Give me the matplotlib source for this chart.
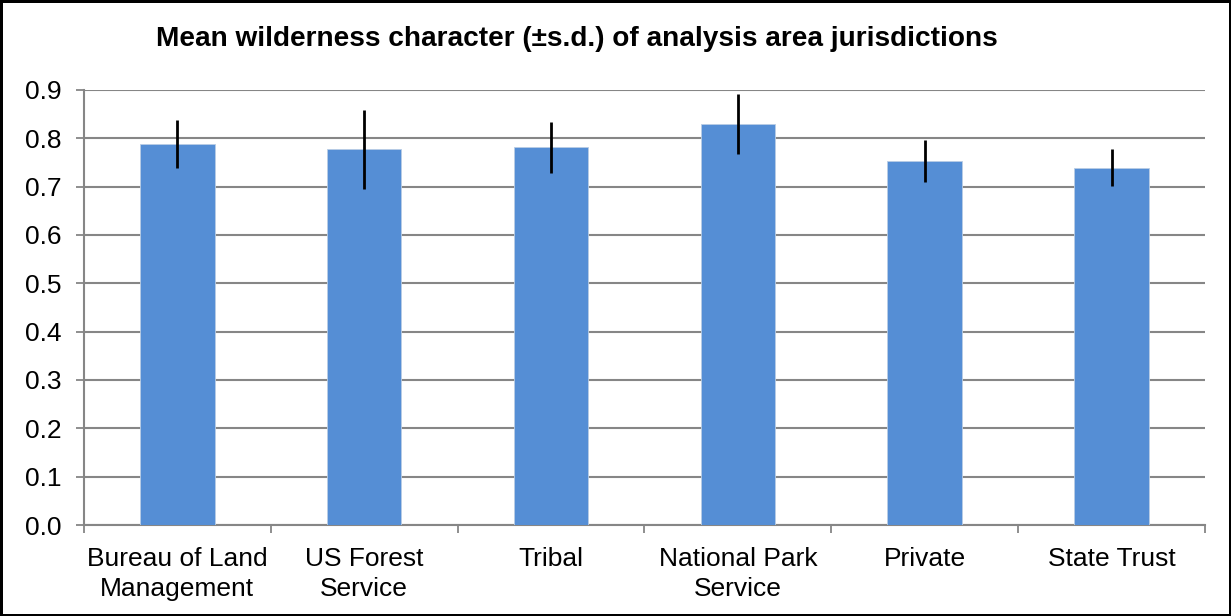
#!/usr/bin/env python3
"""Mean wilderness character (+/- s.d.) by analysis area jurisdiction."""

import matplotlib

matplotlib.use("Agg")

import matplotlib.pyplot as plt
import numpy as np

CATEGORIES = [
    "Bureau of Land\nManagement",
    "US Forest\nService",
    "Tribal",
    "National Park\nService",
    "Private",
    "State Trust",
]
MEANS = [0.788, 0.777, 0.781, 0.829, 0.753, 0.739]
SDS = [0.050, 0.081, 0.053, 0.062, 0.043, 0.038]
Y_TICKS = [0.0, 0.1, 0.2, 0.3, 0.4, 0.5, 0.6, 0.7, 0.8, 0.9]

BAR_COLOR = "#558ED5"
GRID_COLOR = "#868686"

plt.rcParams["font.family"] = ["Liberation Sans", "DejaVu Sans"]


def main() -> None:
    fig = plt.figure(figsize=(12.31, 6.16), dpi=100)
    fig.patch.set_edgecolor("black")
    fig.patch.set_linewidth(2.5)

    ax = fig.add_axes([0.068, 0.1477, 0.911, 0.7063])
    x = np.arange(len(CATEGORIES))
    ax.bar(x, MEANS, width=0.4, color=BAR_COLOR, edgecolor="#B9CDE5", linewidth=0.6, zorder=3)
    ax.errorbar(x, MEANS, yerr=SDS, fmt="none", ecolor="black", elinewidth=2, capsize=0, zorder=4)

    ax.set_xlim(-0.5, len(CATEGORIES) - 0.5)
    ax.set_ylim(0, 0.9)
    ax.set_yticks(Y_TICKS)
    ax.set_yticklabels([f"{t:.1f}" for t in Y_TICKS])
    ax.grid(axis="y", color=GRID_COLOR, linewidth=1.5, zorder=0)
    ax.set_axisbelow(True)

    # category labels centred, tick marks at the category boundaries
    ax.set_xticks(x)
    ax.set_xticklabels(CATEGORIES, fontsize=19, linespacing=1.3)
    ax.tick_params(axis="x", which="major", length=0, pad=16)
    ax.set_xticks(np.arange(-0.5, len(CATEGORIES)), minor=True)
    ax.tick_params(axis="x", which="minor", length=6, width=1.3, color=GRID_COLOR, direction="out")
    ax.tick_params(axis="y", length=6, width=1.3, color=GRID_COLOR, labelsize=19, pad=10)

    for spine in ("top", "right"):
        ax.spines[spine].set_visible(False)
    for spine in ("left", "bottom"):
        ax.spines[spine].set_color(GRID_COLOR)
        ax.spines[spine].set_linewidth(1.5)

    fig.text(
        0.469,
        0.936,
        "Mean wilderness character (\u00b1s.d.) of analysis area jurisdictions",
        ha="center",
        va="center",
        fontsize=20.2,
        fontweight="bold",
    )

    fig.savefig("out.png", dpi=100)
    plt.close(fig)


if __name__ == "__main__":
    main()
